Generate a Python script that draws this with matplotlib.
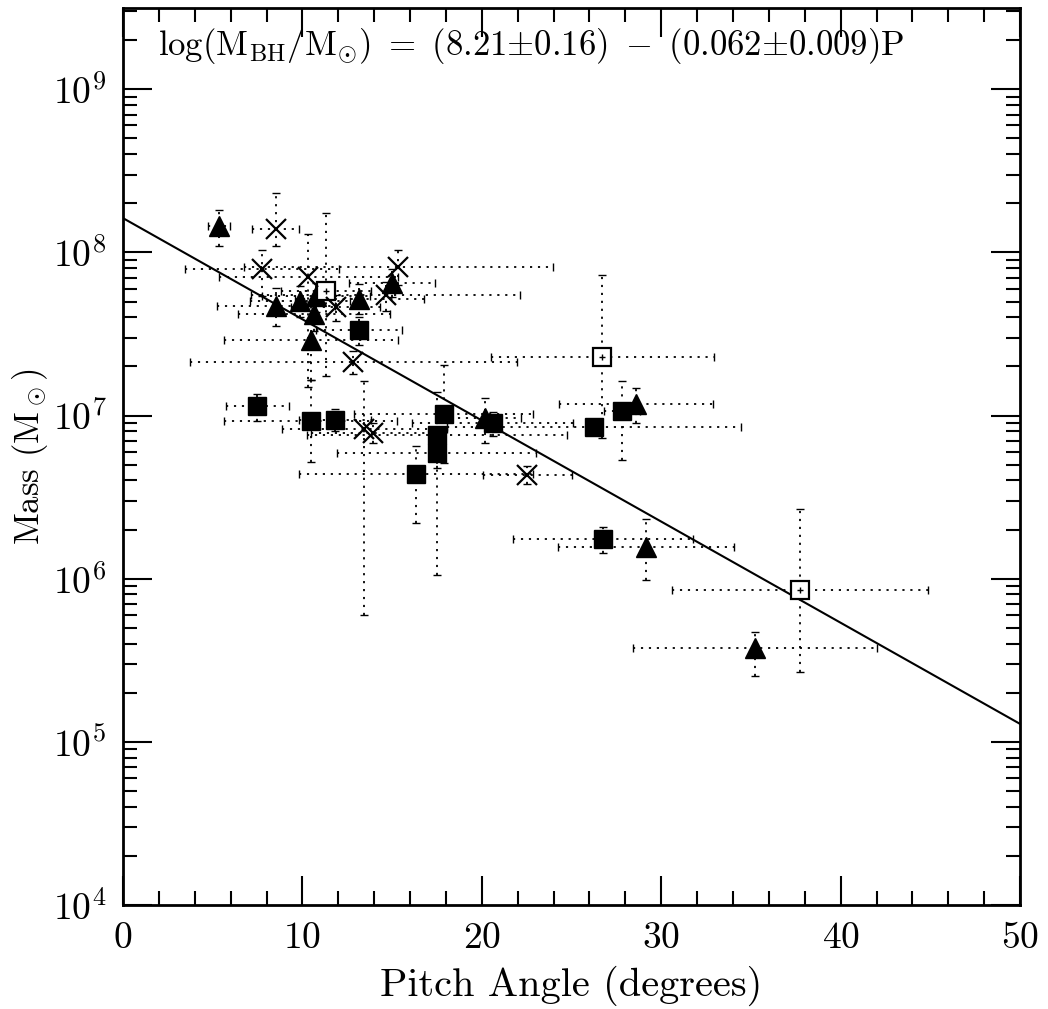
import numpy as np
import matplotlib
matplotlib.use("Agg")
import matplotlib.pyplot as plt

plt.rcParams['font.family'] = 'cmr10'
plt.rcParams['mathtext.fontset'] = 'cm'
plt.rcParams['axes.formatter.use_mathtext'] = True

# filled triangles: pitch angle, pitch err, mass, mass low, mass high
tri_p = [5.35, 8.51, 9.87, 10.74, 10.65, 10.48, 13.17, 14.99, 20.2, 28.6, 29.15, 35.25]
tri_pe = [0.6, 3.3, 2.8, 3.0, 4.25, 4.85, 3.6, 2.4, 2.0, 4.3, 4.92, 6.8]
tri_m = [1.45e8, 4.71e7, 5.07e7, 5.37e7, 4.19e7, 2.89e7, 5.18e7, 6.49e7, 9.68e6, 1.17e7, 1.57e6, 3.74e5]
tri_lo = [1.10e8, 3.52e7, 4.0e7, 4.3e7, 3.3e7, 1.66e7, 4.2e7, 5.3e7, 6.8e6, 9.0e6, 9.85e5, 2.52e5]
tri_hi = [1.82e8, 6.07e7, 6.2e7, 6.5e7, 5.1e7, 5.0e7, 6.4e7, 7.9e7, 1.29e7, 1.48e7, 2.33e6, 4.69e5]

# filled squares
sq_p = [7.49, 10.46, 11.8, 17.87, 17.49, 17.49, 16.33, 20.6, 26.25, 27.81, 26.76, 13.15]
sq_pe = [1.77, 4.83, 2.0, 5.0, 7.25, 5.55, 6.5, 4.5, 8.2, 1.0, 5.03, 2.4]
sq_m = [1.14e7, 9.23e6, 9.38e6, 1.02e7, 7.57e6, 5.86e6, 4.38e6, 8.98e6, 8.47e6, 1.06e7, 1.75e6, 3.33e7]
sq_lo = [9.3e6, 5.18e6, 8.0e6, 5.1e6, 1.06e6, 4.8e6, 2.21e6, 7.5e6, 7.6e6, 5.37e6, 1.43e6, 2.7e7]
sq_hi = [1.35e7, 1.66e7, 1.1e7, 2.05e7, 1.4e7, 7.0e6, 6.55e6, 1.05e7, 9.4e6, 1.62e7, 2.06e6, 4.0e7]

# open squares
op_p = [26.72, 37.74, 11.32]
op_pe = [6.2, 7.15, 2.5]
op_m = [2.30e7, 8.55e5, 5.83e7]
op_lo = [7.3e6, 2.69e5, 1.74e7]
op_hi = [7.28e7, 2.69e6, 1.74e8]

# crosses
x_p = [8.51, 7.73, 10.33, 11.85, 15.35, 14.64, 12.84, 13.45, 13.96, 22.54]
x_pe = [1.3, 4.3, 5.0, 2.5, 8.6, 7.5, 9.1, 4.6, 3.5, 2.5]
x_m = [1.39e8, 7.89e7, 7.05e7, 4.62e7, 8.18e7, 5.50e7, 2.14e7, 8.30e6, 7.84e6, 4.32e6]
x_lo = [1.10e8, 5.4e7, 1.5e7, 3.8e7, 6.3e7, 4.4e7, 1.8e7, 6.0e5, 6.8e6, 3.8e6]
x_hi = [2.32e8, 1.04e8, 1.3e8, 5.5e7, 1.035e8, 6.6e7, 2.5e7, 1.62e7, 9.0e6, 4.9e6]

# fit: log(M) = a + b*P
fit_a = 8.21
fit_b = -0.062
fit_p = np.array([0, 50])

fig = plt.figure(figsize=(10.48, 10.09), dpi=100)
ax = fig.add_axes([0.1174, 0.1031, 0.8559, 0.889])

dots = (0, (1.2, 3.2))

def bars(p, pe, m, lo, hi):
    m = np.array(m)
    yerr = [m - np.array(lo), np.array(hi) - m]
    eb = ax.errorbar(p, m, xerr=pe, yerr=yerr, fmt='none', ecolor='k',
                     elinewidth=1.3, capsize=3, capthick=1.0, zorder=1)
    for lc in eb[2]:
        lc.set_linestyle(dots)

bars(tri_p, tri_pe, tri_m, tri_lo, tri_hi)
bars(sq_p, sq_pe, sq_m, sq_lo, sq_hi)
bars(op_p, op_pe, op_m, op_lo, op_hi)
bars(x_p, x_pe, x_m, x_lo, x_hi)

ax.plot(fit_p, 10 ** (fit_a + fit_b * fit_p), color='k', lw=1.5, zorder=2)

ax.plot(tri_p, tri_m, '^', color='k', ms=14, ls='none', zorder=3)
ax.plot(sq_p, sq_m, 's', color='k', ms=13, ls='none', zorder=3)
ax.plot(op_p, op_m, 's', mfc='white', mec='k', mew=1.6, ms=13, ls='none', zorder=3)
ax.plot(op_p, op_m, '+', color='k', ms=5, mew=1.0, ls='none', zorder=4)
ax.plot(x_p, x_m, 'x', color='k', ms=14, mew=1.6, ls='none', zorder=3)

ax.set_yscale('log')
ax.set_xlim(0, 50)
ax.set_ylim(1e4, 3.15e9)
ax.set_xticks([0, 10, 20, 30, 40, 50])
ax.set_xticks(np.arange(0, 51, 2), minor=True)
ax.set_yticks([1e4, 1e5, 1e6, 1e7, 1e8, 1e9])

ax.tick_params(which='both', direction='in', top=True, right=True, width=1.5, labelsize=27)
ax.tick_params(which='major', length=21, pad=12)
ax.tick_params(which='minor', length=10)
for s in ax.spines.values():
    s.set_linewidth(2)

ax.set_xlabel('Pitch Angle (degrees)', fontsize=29, labelpad=8)
ax.set_ylabel(r'Mass (M$_\odot$)', fontsize=25, labelpad=2)

ax.text(0.455, 0.958,
        r'$\mathrm{log(M_{BH}/M_{\odot})\ =\ (8.21{\pm}0.16)\ -\ (0.062{\pm}0.009)P}$',
        transform=ax.transAxes, ha='center', va='center', fontsize=25)

fig.savefig('out.png', dpi=100)
